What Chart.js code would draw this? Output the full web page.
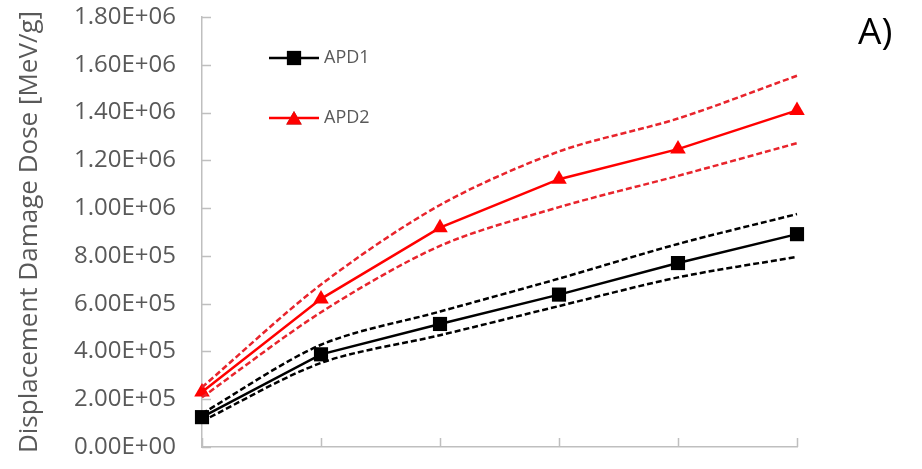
<!DOCTYPE html>
<html>
<head>
<meta charset="utf-8">
<script src="https://cdn.jsdelivr.net/npm/chart.js@4.4.1/dist/chart.umd.min.js"></script>
<style>
  html, body { margin: 0; padding: 0; background: #fff; }
  #wrap { position: relative; width: 922px; height: 469px; }
</style>
</head>
<body>
<div id="wrap"><canvas id="c" width="922" height="469"></canvas></div>
<script>
// Six measurement positions along the horizontal axis (unlabelled)
const categories = ['1', '2', '3', '4', '5', '6'];

// Displacement damage dose [MeV/g]
const apd1      = [1.25e5, 3.88e5, 5.15e5, 6.38e5, 7.70e5, 8.91e5];
const apd1Upper = [1.40e5, 4.28e5, 5.67e5, 7.05e5, 8.50e5, 9.75e5];
const apd1Lower = [1.08e5, 3.52e5, 4.68e5, 5.90e5, 7.10e5, 7.96e5];

const apd2      = [2.30e5, 6.20e5, 9.18e5, 1.121e6, 1.247e6, 1.409e6];
const apd2Upper = [2.50e5, 6.80e5, 1.013e6, 1.237e6, 1.375e6, 1.554e6];
const apd2Lower = [2.08e5, 5.64e5, 8.42e5, 1.004e6, 1.135e6, 1.272e6];

const yTicks = [0, 2e5, 4e5, 6e5, 8e5, 1.0e6, 1.2e6, 1.4e6, 1.6e6, 1.8e6];

const FONT = "'Open Sans', 'Noto Sans', sans-serif";
const TEXT_GREY = '#595959';
const AXIS_GREY = '#bfbfbf';
const RED = '#ff0000';
const RED_DASH = '#e8242c';

// "1.80E+06" style scientific labels
function sci(v) {
  const [m, e] = Number(v).toExponential(2).split('e');
  const n = parseInt(e, 10);
  const sign = n < 0 ? '-' : '+';
  return m + 'E' + sign + String(Math.abs(n)).padStart(2, '0');
}

const dashed = (label, data, color) => ({
  label, data,
  borderColor: color, backgroundColor: color,
  borderWidth: 2.5, borderDash: [6, 3],
  pointRadius: 0, pointHoverRadius: 0,
  tension: 0.3, fill: false
});

// Inside tick marks, legend block and panel letter
const decorations = {
  id: 'decorations',
  beforeDatasetsDraw(chart) {
    const { ctx, chartArea, scales } = chart;
    ctx.save();
    ctx.strokeStyle = AXIS_GREY;
    ctx.lineWidth = 1.5;
    ctx.beginPath();
    yTicks.forEach(v => {
      const y = Math.round(scales.y.getPixelForValue(v)) + 0.5;
      ctx.moveTo(chartArea.left, y);
      ctx.lineTo(chartArea.left + 9, y);
    });
    categories.forEach((c, i) => {
      const x = Math.round(scales.x.getPixelForValue(i)) + 0.5;
      ctx.moveTo(x, chartArea.bottom);
      ctx.lineTo(x, chartArea.bottom - 9);
    });
    ctx.stroke();
    ctx.restore();
  },
  afterDraw(chart) {
    const { ctx } = chart;
    const items = [
      { ds: chart.data.datasets[4], y: 58, text: 'APD1' },
      { ds: chart.data.datasets[5], y: 118, text: 'APD2' }
    ];
    ctx.save();
    items.forEach(it => {
      ctx.strokeStyle = it.ds.borderColor;
      ctx.lineWidth = 2.5;
      ctx.beginPath();
      ctx.moveTo(269, it.y);
      ctx.lineTo(319, it.y);
      ctx.stroke();
      Chart.helpers.drawPoint(ctx, {
        pointStyle: it.ds.pointStyle,
        radius: it.ds.pointRadius,
        rotation: 0,
        borderWidth: 0
      }, 294, it.y + (it.ds.pointStyle === 'triangle' ? 2 : 0));
      ctx.fillStyle = it.ds.pointBackgroundColor;
      ctx.fill();
      ctx.fillStyle = TEXT_GREY;
      ctx.font = '18px ' + FONT;
      ctx.textAlign = 'left';
      ctx.textBaseline = 'middle';
      ctx.fillText(it.text, 324, it.y);
    });
    ctx.fillStyle = '#000';
    ctx.font = '37px ' + FONT;
    ctx.textAlign = 'left';
    ctx.textBaseline = 'alphabetic';
    ctx.fillText('A)', 858, 44);
    ctx.restore();
  }
};

new Chart(document.getElementById('c'), {
  type: 'line',
  data: {
    labels: categories,
    datasets: [
      dashed('APD2 upper', apd2Upper, RED_DASH),
      dashed('APD2 lower', apd2Lower, RED_DASH),
      dashed('APD1 upper', apd1Upper, '#000'),
      dashed('APD1 lower', apd1Lower, '#000'),
      {
        label: 'APD1', data: apd1,
        borderColor: '#000', backgroundColor: '#000',
        pointBackgroundColor: '#000', pointBorderWidth: 0,
        borderWidth: 2.5, pointStyle: 'rect', pointRadius: 10,
        tension: 0, fill: false
      },
      {
        label: 'APD2', data: apd2,
        borderColor: RED, backgroundColor: RED,
        pointBackgroundColor: RED, pointBorderWidth: 0,
        borderWidth: 2.5, pointStyle: 'triangle', pointRadius: 9,
        tension: 0, fill: false
      }
    ]
  },
  options: {
    responsive: false,
    animation: false,
    devicePixelRatio: 1,
    layout: { padding: { top: 17, right: 125, bottom: 22, left: 0 } },
    plugins: { legend: { display: false }, tooltip: { enabled: false } },
    scales: {
      x: {
        type: 'category',
        offset: false,
        grid: { display: false, drawTicks: false },
        border: { display: true, color: AXIS_GREY, width: 1.5 },
        ticks: { display: false },
        afterFit: s => { s.height = 0; s.paddingLeft = 0; s.paddingRight = 0; }
      },
      y: {
        min: 0, max: 1.8e6,
        afterBuildTicks: s => { s.ticks = yTicks.map(v => ({ value: v })); },
        afterFit: s => { s.width = 202; s.paddingTop = 0; s.paddingBottom = 0; },
        grid: { display: false, drawTicks: false },
        border: { display: true, color: AXIS_GREY, width: 1.5 },
        ticks: {
          padding: 26,
          color: TEXT_GREY,
          font: { family: FONT, size: 24 },
          callback: v => sci(v)
        },
        title: {
          display: true,
          text: 'Displacement Damage Dose [MeV/g]',
          color: TEXT_GREY,
          font: { family: FONT, size: 26 },
          padding: { top: 14, bottom: 0 }
        }
      }
    }
  },
  plugins: [decorations]
});
</script>
</body>
</html>
